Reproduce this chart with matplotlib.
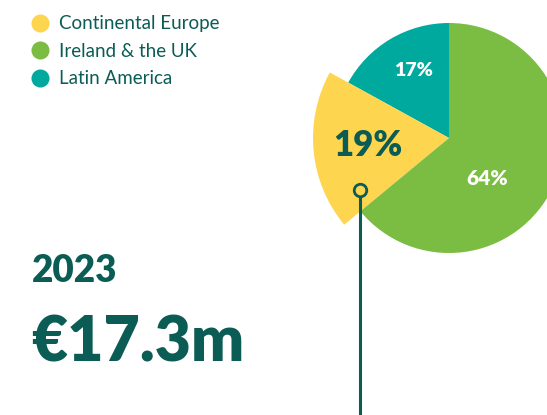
import numpy as np
import matplotlib
matplotlib.use("Agg")
import matplotlib.pyplot as plt

# Data
categories = ["Continental Europe", "Ireland & the UK", "Latin America"]
shares = [19, 64, 17]
colors = ["#FDD54F", "#7ABD42", "#00A99D"]
year_label = "2023"
total_label = "€17.3m"

DARK = "#0B5C55"
W, H = 547, 415

fig = plt.figure(figsize=(W / 100, H / 100), dpi=100)
ax = fig.add_axes([0, 0, 1, 1])

# pie: order counter-clockwise from top: Latin America, Continental Europe, Ireland & UK
order = [2, 0, 1]
vals = [shares[i] for i in order]
cols = [colors[i] for i in order]
cx, cy, R = 449, H - 138, 115
wedges, _ = ax.pie(vals, colors=cols, startangle=90, counterclock=True,
                   center=(cx, cy), radius=R, frame=True,
                   wedgeprops=dict(linewidth=0))
# enlarge Continental Europe wedge
wedges[1].set_radius(136)
ax.set_xlim(0, W)
ax.set_ylim(0, H)
ax.set_aspect("equal")
ax.axis("off")

def polar(ang, d):
    a = np.deg2rad(ang)
    return cx + d * np.cos(a), cy + d * np.sin(a)

# Latin America
x, y = polar(117.6, 76)
ax.text(x, y, f"{vals[0]}%", color="white", fontsize=14, fontweight="heavy",
        family="Lato", ha="center", va="center")
# Continental Europe
x, y = polar(185, 81)
ax.text(x, y, f"{vals[1]}%", color=DARK, fontsize=25, fontweight="heavy",
        family="Lato", ha="center", va="center")
# Ireland & UK
x, y = polar(313.5, 56)
ax.text(x, y, f"{vals[2]}%", color="white", fontsize=15, fontweight="heavy",
        family="Lato", ha="center", va="center")

# leader line
lx, ly = 360, H - 190
ax.plot([lx, lx], [ly - 5, 0], color=DARK, lw=2.2, solid_capstyle="butt", zorder=5)
ax.plot([lx], [ly], marker="o", markersize=9, markerfacecolor=colors[0],
        markeredgecolor=DARK, markeredgewidth=2, zorder=6)

# legend
for i, (cat, col) in enumerate(zip(categories, colors)):
    y = H - (23 + i * 27.5)
    ax.plot([40], [y], marker="o", markersize=13, color=col, markeredgewidth=0)
    ax.text(59, y - 1, cat, color=DARK, fontsize=13.5, family="Lato",
            ha="left", va="center")

ax.text(32, H - 271, year_label, color=DARK, fontsize=26.5, fontweight="heavy",
        family="Lato", ha="left", va="center")
ax.text(31, H - 343, total_label, color=DARK, fontsize=45, fontweight="heavy",
        family="Lato", ha="left", va="center")

fig.savefig("out.png", dpi=100, facecolor="white")
